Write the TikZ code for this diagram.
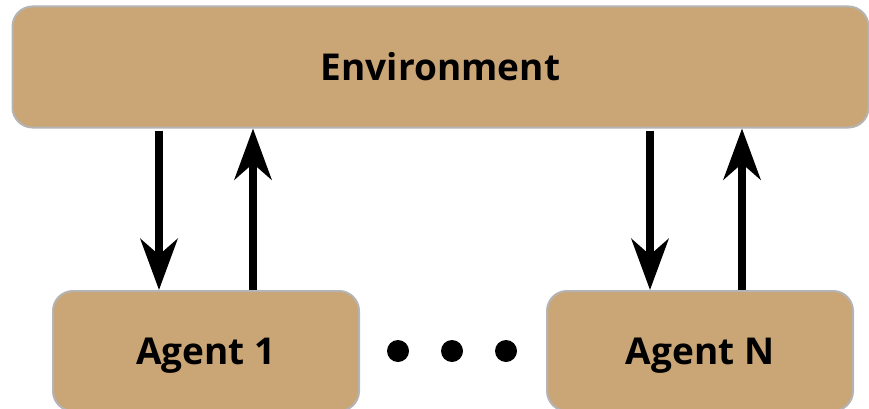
\documentclass[tikz,border=0pt]{standalone}
\usepackage{fontspec}
\setmainfont{Open Sans}
\usetikzlibrary{arrows.meta}
\definecolor{boxfill}{HTML}{CAA576}
\definecolor{boxline}{HTML}{B4B4B4}
\tikzset{
  box/.style={draw=boxline, line width=2pt, fill=boxfill, rounded corners=20pt,
    font=\fontsize{37}{40}\selectfont\bfseries, text=black, inner sep=0pt,
    text height=27pt, text depth=0pt},
  arr/.style={line width=8pt, -{Stealth[length=51pt,width=37pt,inset=16pt]}},
  dot/.style={circle, fill=black, minimum size=22pt, inner sep=0pt}
}
\begin{document}
\begin{tikzpicture}[x=1pt,y=-1pt]
\useasboundingbox (0,0) rectangle (869,409);
\clip (0,0) rectangle (869,409);
\node[box, minimum width=856pt, minimum height=121pt] (env) at (440.5,67) {Environment};
\node[box, minimum width=306pt, minimum height=120pt] (a1) at (206,351) {Agent 1};
\node[box, minimum width=306pt, minimum height=120pt] (an) at (700,351) {Agent N};
\coordinate (x1) at (159,0);
\coordinate (x2) at (253,0);
\coordinate (x3) at (650,0);
\coordinate (x4) at (742,0);
\draw[arr] (env.south -| x1) ++(0,2) -- (a1.north -| x1);
\draw[arr] (a1.north -| x2) -- (env.south -| x2);
\draw[arr] (env.south -| x3) ++(0,2) -- (an.north -| x3);
\draw[arr] (an.north -| x4) -- (env.south -| x4);
\node[dot] (d1) at (398,351) {};
\node[dot] (d2) at (452,351) {};
\node[dot] (d3) at (506,351) {};
\end{tikzpicture}
\end{document}
